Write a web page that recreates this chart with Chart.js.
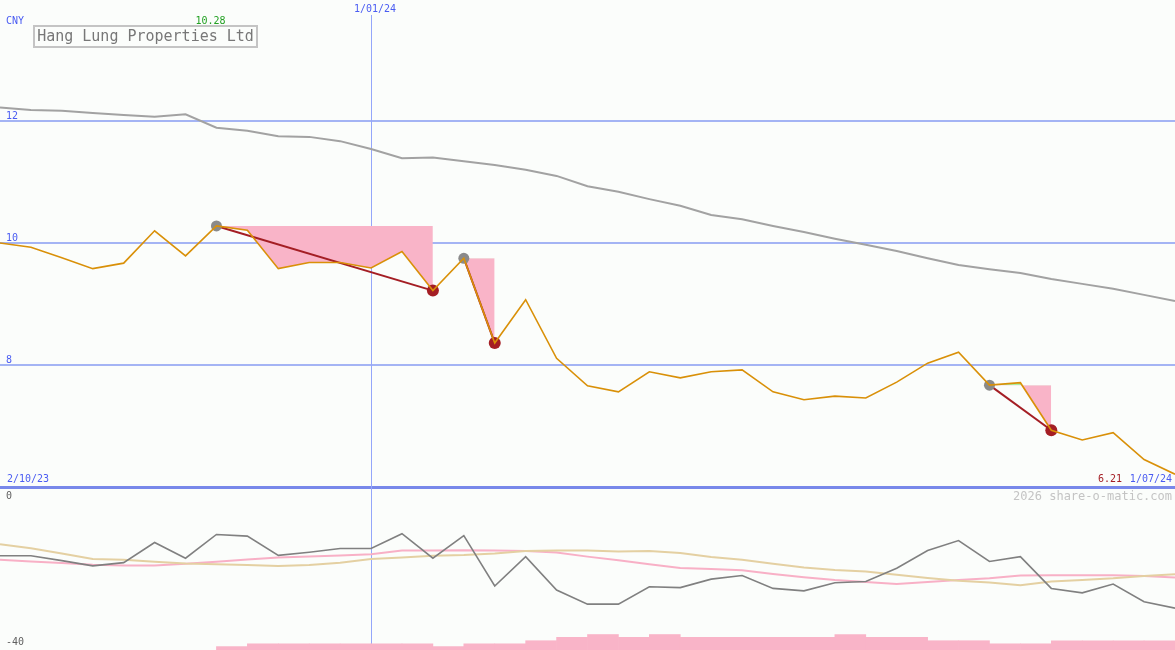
<!DOCTYPE html>
<html>
<head>
<meta charset="utf-8">
<script src="https://cdn.jsdelivr.net/npm/chart.js@4.4.1/dist/chart.umd.min.js"></script>
<style>
  html, body { margin: 0; padding: 0; background: #fbfdfb; }
  #wrap { position: relative; width: 1175px; height: 650px; overflow: hidden; }
  canvas { position: absolute; left: 0; }
  #top { top: 0; z-index: 2; }
  #bottom { top: 489px; z-index: 1; }
</style>
</head>
<body>
<div id="wrap">
  <canvas id="bottom" width="1175" height="161"></canvas>
  <canvas id="top" width="1175" height="490"></canvas>
</div>
<script>
// Weekly points, index 0 = 2/10/23 ... index 38 = 1/07/24
var startLabel = "2/10/23";
var endLabel   = "1/07/24";
var markLabel  = "1/01/24";
var markIdx    = 12;
var title      = "Hang Lung Properties Ltd";
var currency   = "CNY";

var price = [10.00, 9.93, 9.76, 9.58, 9.67, 10.20, 9.79, 10.28, 10.21, 9.58,
             9.68, 9.68, 9.59, 9.86, 9.22, 9.75, 8.36, 9.07, 8.11, 7.66,
             7.56, 7.89, 7.79, 7.89, 7.92, 7.56, 7.43, 7.49, 7.46, 7.72,
             8.03, 8.21, 7.67, 7.71, 6.93, 6.77, 6.89, 6.45, 6.21];

var priceMA = [12.22, 12.18, 12.17, 12.13, 12.10, 12.07, 12.11, 11.89, 11.84, 11.75,
               11.74, 11.67, 11.54, 11.39, 11.40, 11.34, 11.28, 11.20, 11.10, 10.93,
               10.84, 10.72, 10.61, 10.46, 10.39, 10.28, 10.18, 10.07, 9.97, 9.87,
               9.75, 9.64, 9.57, 9.51, 9.41, 9.33, 9.25, 9.15, 9.05];

// drawdowns: peak index -> trough index
var peakIdx   = [7, 15, 32];
var troughIdx = [14, 16, 34];

var yTicks = [6, 8, 10, 12];

// lower panel
var momentum = [-16.6, -16.6, -17.8, -19.1, -18.3, -13.3, -17.2, -11.3, -11.7, -16.5,
                -15.7, -14.8, -14.8, -11.1, -17.2, -11.6, -24.1, -16.8, -25.1, -28.6,
                -28.6, -24.3, -24.5, -22.4, -21.5, -24.7, -25.3, -23.3, -23.0, -19.7,
                -15.3, -12.8, -18.0, -16.8, -24.7, -25.8, -23.6, -28.0, -29.6];

var pinkMA = [-17.6, -18.0, -18.4, -18.8, -19.0, -19.0, -18.6, -18.1, -17.5, -17.0,
              -16.8, -16.5, -16.2, -15.3, -15.3, -15.2, -15.3, -15.4, -15.8, -16.8,
              -17.7, -18.7, -19.6, -19.9, -20.2, -21.1, -21.9, -22.6, -23.1, -23.6,
              -23.1, -22.6, -22.2, -21.5, -21.4, -21.4, -21.4, -21.6, -22.0];

var tanMA = [-13.7, -14.7, -16.0, -17.4, -17.6, -18.1, -18.5, -18.7, -18.9, -19.1,
             -18.9, -18.3, -17.4, -17.0, -16.6, -16.4, -16.0, -15.4, -15.3, -15.3,
             -15.5, -15.4, -15.9, -16.9, -17.6, -18.6, -19.5, -20.1, -20.5, -21.3,
             -22.1, -22.8, -23.2, -23.9, -23.0, -22.6, -22.2, -21.6, -21.2];

// volume per week interval [i, i+1]
var volume = [null, null, null, null, null, null, null, 1.1, 2, 2,
              2, 2, 2, 2, 1.1, 2, 2, 3, 4.1, 5,
              4.1, 5, 4.1, 4.1, 4.1, 4.1, 4.1, 5, 4.1, 4.1,
              3, 3, 2, 2, 3, 3, 3, 3];

var FONT = "'DejaVu Sans Mono', monospace";
var BLUE_TXT = "#4a5cf2";
var PINK = "#f9b4c8";
var DARKRED = "#a41e24";

function pts(arr, from, to) {
  var out = [];
  for (var i = from; i <= to; i++) out.push({ x: i, y: arr[i] });
  return out;
}

function text(ctx, s, x, y, color, size, align) {
  ctx.save();
  ctx.font = size + "px " + FONT;
  ctx.fillStyle = color;
  ctx.textAlign = align || "left";
  ctx.textBaseline = "middle";
  ctx.fillText(s, x, y);
  ctx.restore();
}

// vertical date line, both panels
var markLine = {
  id: "markLine",
  beforeDatasetsDraw: function (chart, args, opts) {
    var x = Math.round(chart.scales.x.getPixelForValue(markIdx)) + 0.5;
    var c = chart.ctx;
    c.save();
    c.strokeStyle = "#94a6fa";
    c.lineWidth = 1;
    c.beginPath();
    c.moveTo(x, opts.from || 0);
    c.lineTo(x, chart.height);
    c.stroke();
    c.restore();
  }
};

var topLabels = {
  id: "topLabels",
  afterDraw: function (chart) {
    var c = chart.ctx, xs = chart.scales.x;
    var mx = xs.getPixelForValue(markIdx);
    var hi = 0;
    price.forEach(function (v, i) { if (v > price[hi]) hi = i; });
    text(c, currency, 6, 21, BLUE_TXT, 10);
    text(c, price[hi].toFixed(2), xs.getPixelForValue(hi) - 6, 21, "#22a022", 10, "center");
    text(c, markLabel, mx + 4, 9, BLUE_TXT, 10, "center");
    c.save();
    c.fillStyle = "#fbfdfb";
    c.strokeStyle = "#c4c4c4";
    c.lineWidth = 2;
    c.fillRect(34, 26, 223, 21);
    c.strokeRect(34, 26, 223, 21);
    c.restore();
    text(c, title, 145.5, 37, "#777777", 15, "center");
    text(c, startLabel, 7, 479, BLUE_TXT, 10);
    text(c, price[price.length - 1].toFixed(2), 1122, 479, DARKRED, 10, "right");
    text(c, endLabel, 1172, 479, BLUE_TXT, 10, "right");
  }
};

var bottomLabels = {
  id: "bottomLabels",
  afterDraw: function (chart) {
    var c = chart.ctx;
    text(c, "0", 6, 7, "#606060", 10);
    text(c, "-40", 6, 153, "#606060", 10);
    text(c, "2026 share-o-matic.com", 1172, 8, "#c4c4c4", 12, "right");
  }
};

// ---------- main price panel ----------
var topSets = [];
peakIdx.forEach(function (p, k) {
  var t = troughIdx[k];
  topSets.push({
    data: pts(price, p, t),
    borderColor: "transparent",
    borderWidth: 0,
    pointRadius: 0,
    fill: { target: { value: price[p] }, above: "#a8f0a0", below: PINK },
    order: 10
  });
  topSets.push({
    data: [{ x: p, y: price[p] }, { x: t, y: price[t] }],
    borderColor: DARKRED,
    borderWidth: 2,
    pointRadius: 0,
    fill: false,
    order: 6
  });
});
topSets.push({
  data: pts(priceMA, 0, priceMA.length - 1),
  borderColor: "#a2a2a2",
  borderWidth: 2,
  pointRadius: 0,
  fill: false,
  order: 8
});
topSets.push({
  data: peakIdx.map(function (i) { return { x: i, y: price[i] }; }),
  showLine: false,
  pointRadius: 5.5,
  pointBorderWidth: 0,
  pointBackgroundColor: "#8a8a8a",
  order: 4
});
topSets.push({
  data: troughIdx.map(function (i) { return { x: i, y: price[i] }; }),
  showLine: false,
  pointRadius: 6,
  pointBorderWidth: 0,
  pointBackgroundColor: DARKRED,
  order: 4
});
topSets.push({
  data: pts(price, 0, price.length - 1),
  borderColor: "#d99008",
  borderWidth: 1.6,
  pointRadius: 0,
  fill: false,
  order: 1
});

new Chart(document.getElementById("top"), {
  type: "line",
  data: { datasets: topSets },
  options: {
    responsive: false,
    animation: false,
    devicePixelRatio: 1,
    layout: { padding: 0, autoPadding: false },
    plugins: { legend: { display: false }, tooltip: { enabled: false }, markLine: { from: 15 } },
    scales: {
      x: { type: "linear", min: 0, max: 38, display: false, offset: false },
      y: {
        min: 5.951, max: 13.984,
        afterBuildTicks: function (s) { s.ticks = yTicks.map(function (v) { return { value: v }; }); },
        afterFit: function (s) { s.width = 0; s.paddingTop = 0; s.paddingBottom = 0; },
        border: { display: false },
        grid: {
          drawTicks: false,
          color: function (c) { return c.tick && c.tick.value === 6 ? "#7888ea" : "#a4b4f4"; },
          lineWidth: function (c) { return c.tick && c.tick.value === 6 ? 3 : 2; }
        },
        ticks: {
          mirror: true, padding: 6, labelOffset: -5,
          color: BLUE_TXT, font: { family: FONT, size: 10 },
          callback: function (v) { return v === 6 ? "" : String(v); }
        }
      }
    }
  },
  plugins: [markLine, topLabels]
});

// ---------- lower indicator panel ----------
var volPts = [];
volume.forEach(function (v, i) { if (v !== null) volPts.push({ x: i + 0.5, y: v }); });

new Chart(document.getElementById("bottom"), {
  type: "line",
  data: {
    datasets: [
      { type: "bar", data: volPts, yAxisID: "yv", backgroundColor: PINK, borderWidth: 0,
        barPercentage: 1, categoryPercentage: 1, order: 10 },
      { data: pts(pinkMA, 0, pinkMA.length - 1), borderColor: "#f8b0c6", borderWidth: 2, pointRadius: 0, fill: false, order: 6 },
      { data: pts(tanMA, 0, tanMA.length - 1), borderColor: "#e4d0a2", borderWidth: 2, pointRadius: 0, fill: false, order: 5 },
      { data: pts(momentum, 0, momentum.length - 1), borderColor: "#808080", borderWidth: 1.6, pointRadius: 0, fill: false, order: 1 }
    ]
  },
  options: {
    responsive: false,
    animation: false,
    devicePixelRatio: 1,
    layout: { padding: 0, autoPadding: false },
    plugins: { legend: { display: false }, tooltip: { enabled: false }, markLine: { from: 0 } },
    scales: {
      x: { type: "linear", min: 0, max: 38, display: false, offset: false },
      y: { min: -40, max: 0, display: false },
      yv: { min: 0, max: 52, display: false }
    }
  },
  plugins: [markLine, bottomLabels]
});
</script>
</body>
</html>
